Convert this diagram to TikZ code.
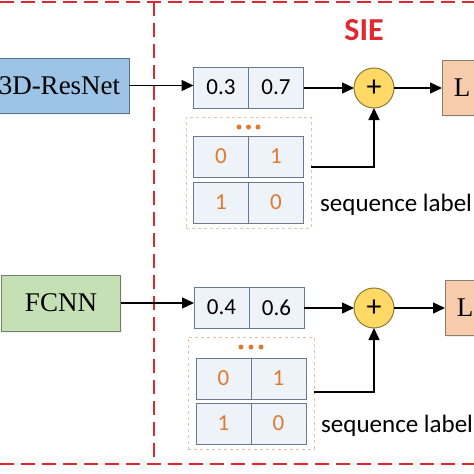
\documentclass[tikz,border=0pt]{standalone}
\usepackage{fontspec}
\setmainfont{Liberation Serif}
\newfontfamily\calfont{Carlito}
\usetikzlibrary{arrows.meta,calc,shadows}
\definecolor{redline}{HTML}{E2282F}
\definecolor{resblue}{HTML}{9DC3E6}
\definecolor{resborder}{HTML}{5A7390}
\definecolor{fcgreen}{HTML}{C5E0B4}
\definecolor{fcborder}{HTML}{70806A}
\definecolor{lpeach}{HTML}{F8CBAD}
\definecolor{lborder}{HTML}{8C7B70}
\definecolor{plusyellow}{HTML}{FFD966}
\definecolor{plusborder}{HTML}{8F7A30}
\definecolor{cellfill}{HTML}{EEF3F9}
\definecolor{cellborder}{HTML}{6A7A8C}
\definecolor{seqorange}{HTML}{E07A30}
\definecolor{grpborder}{HTML}{E5C2A8}
\begin{document}
\begin{tikzpicture}[x=1pt,y=-1pt,
  netbox/.style={draw=#1, line width=1pt, inner sep=0pt, outer sep=0pt,
    minimum height=55pt, font=\fontsize{27}{30}\selectfont,
    drop shadow={opacity=0.12, shadow xshift=1pt, shadow yshift=-2pt}},
  cellbox/.style={draw=cellborder, fill=cellfill, line width=0.9pt, inner sep=0pt, outer sep=0pt,
    minimum width=55pt, minimum height=41pt, font=\calfont\fontsize{23}{26}\selectfont},
  seqcell/.style={cellbox, text=seqorange},
  grpbox/.style={draw=grpborder, dashed, line width=0.8pt, fill=white, inner sep=0pt, outer sep=0pt},
  plusnode/.style={circle, draw=plusborder, fill=plusyellow, line width=1pt, minimum size=40pt,
    inner sep=0pt, outer sep=0pt, font=\calfont\fontsize{30}{30}\selectfont},
  dotmark/.style={circle, fill=seqorange, minimum size=5pt, inner sep=0pt},
  seqtext/.style={font=\calfont\fontsize{25}{28}\selectfont, inner sep=0pt, anchor=base west},
  ar/.style={draw=black, line width=1.4pt, -{Triangle[length=12pt,width=11pt]}},
  redd/.style={draw=redline, line width=2.5pt, dash pattern=on 14pt off 7pt}
]
\useasboundingbox (0,0) rectangle (474,474);
\clip (0,0) rectangle (474,474);

% red dashed frame
\coordinate (tl) at (0,2);
\coordinate (tr) at (474,2);
\coordinate (bl) at (0,464);
\coordinate (br) at (474,464);
\coordinate (vt) at (154,2);
\coordinate (vb) at (154,464);
\draw[redd] (tl) -- (tr);
\draw[redd] (bl) -- (br);
\draw[redd] (vt) -- (vb);

\node[font=\calfont\bfseries\fontsize{32}{34}\selectfont, text=redline] (sie) at (364,30) {SIE};

% ---------- top branch ----------
\node[netbox=resborder, fill=resblue, minimum width=139pt] (res) at (59.5,85.5) {3D-ResNet};
\node[cellbox] (a1) at (221,87.5) {0.3};
\node[cellbox] (a2) at (276,87.5) {0.7};
\node[grpbox, minimum width=125pt, minimum height=111pt] (ga) at (248.5,172.5) {};
\node[dotmark] (da1) at (239,127) {};
\node[dotmark] (da2) at (248.5,127) {};
\node[dotmark] (da3) at (258,127) {};
\node[seqcell] (sa1) at (221,156.5) {0};
\node[seqcell] (sa2) at (276,156.5) {1};
\node[seqcell] (sa3) at (221,202.5) {1};
\node[seqcell] (sa4) at (276,202.5) {0};
\node[plusnode] (pa) at (374,88) {+};
\node[netbox=lborder, fill=lpeach, minimum width=40pt, anchor=west] (la) at (442,87.5) {L};
\node[seqtext] (qa) at (320,211) {sequence label};

\draw[ar] (res.east) -- (res.east -| a1.west);
\draw[ar] (a2.east |- pa.west) -- (pa.west);
\draw[ar] (pa.east) -- (pa.east -| la.west);
\coordinate (fa) at ($(ga.east)+(0,-5.5)$);
\draw[ar] (fa) -| (pa.south);

% ---------- bottom branch ----------
\node[netbox=fcborder, fill=fcgreen, minimum width=119pt, minimum height=56pt] (fc) at (61,303) {FCNN};
\node[cellbox] (b1) at (221.5,307.5) {0.4};
\node[cellbox] (b2) at (276.5,307.5) {0.6};
\node[grpbox, minimum width=126pt, minimum height=112pt] (gb) at (251,393) {};
\node[dotmark] (db1) at (241,347) {};
\node[dotmark] (db2) at (251,347) {};
\node[dotmark] (db3) at (261,347) {};
\node[seqcell] (sb1) at (223.5,378.5) {0};
\node[seqcell] (sb2) at (278.5,378.5) {1};
\node[seqcell] (sb3) at (223.5,423.5) {1};
\node[seqcell] (sb4) at (278.5,423.5) {0};
\node[plusnode] (pb) at (374,308) {+};
\node[netbox=lborder, fill=lpeach, minimum width=40pt, anchor=west] (lb) at (445,307.5) {L};
\node[seqtext] (qb) at (321,432) {sequence label};

\draw[ar] (fc.east) -- (fc.east -| b1.west);
\draw[ar] (b2.east |- pb.west) -- (pb.west);
\draw[ar] (pb.east) -- (pb.east -| lb.west);
\coordinate (fb) at ($(gb.east)+(0,-1)$);
\draw[ar] (fb) -| (pb.south);
\end{tikzpicture}
\end{document}
